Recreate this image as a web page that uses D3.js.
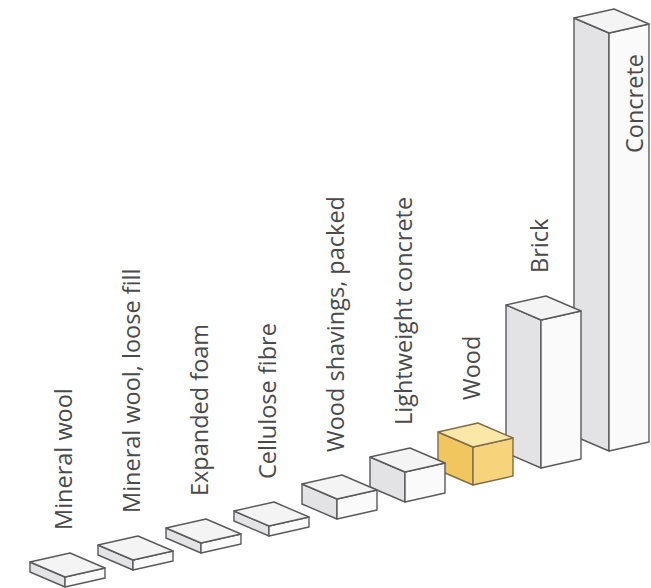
<!DOCTYPE html>
<html>
<head>
<meta charset="utf-8">
<script src="https://cdn.jsdelivr.net/npm/d3@7"></script>
<style>
  html, body { margin: 0; padding: 0; background: #ffffff; }
  svg { display: block; }
  text { font-family: "Open Sans", "Noto Sans", sans-serif; }
</style>
</head>
<body>
<div id="chart"></div>
<script>
// Thermal conductivity of common building materials, W/(m·K)
const materials = [
  "Mineral wool",
  "Mineral wool, loose fill",
  "Expanded foam",
  "Cellulose fibre",
  "Wood shavings, packed",
  "Lightweight concrete",
  "Wood",
  "Brick",
  "Concrete"
];
const conductivity = [0.05, 0.05, 0.05, 0.05, 0.10, 0.15, 0.19, 0.74, 2.09];
const highlighted = ["Wood"];

const width = 651, height = 588;

const svg = d3.select("#chart").append("svg")
  .attr("width", width)
  .attr("height", height);

// Front-corner x of each box, and the sloping ground line the boxes stand on
const x = d3.scalePoint().domain(materials).range([65, 609]);
const ground = d3.scaleLinear().domain([65, 609]).range([587, 451]);
// Box height from conductivity
const h = d3.scaleLinear().domain([0, 1]).range([0, 200]);

// Footprint edges in screen space (isometric-like projection)
const toFront = [35, 15];   // left corner -> front corner
const toRight = [40, -9];   // front corner -> right corner

const palette = {
  plain: { top: "#f4f4f4", left: "#e3e3e6", right: "#fafafa", stroke: "#5a5a5a" },
  wood:  { top: "#fbe7a8", left: "#f2c65e", right: "#f7d47c", stroke: "#7e6e48" }
};

const data = materials.map((name, i) => ({ name, value: conductivity[i] }));

function boxGeometry(d) {
  const fx = x(d.name);
  const fy = ground(fx);          // bottom of front edge
  const top = fy - h(d.value);    // top of front edge
  const F = [fx, top];
  const L = [fx - toFront[0], top - toFront[1]];
  const R = [fx + toRight[0], top + toRight[1]];
  const B = [L[0] + toRight[0], L[1] + toRight[1]];
  const dz = fy - top;
  const down = p => [p[0], p[1] + dz];
  return { F, L, R, B, dz, down };
}

const line = d3.line();

// Draw from the back (right) to the front (left) so nearer boxes overlap
const boxes = svg.append("g").attr("class", "boxes")
  .selectAll("g")
  .data(data.slice().reverse())
  .join("g");

boxes.each(function(d) {
  const g = d3.select(this);
  const c = highlighted.includes(d.name) ? palette.wood : palette.plain;
  const { F, L, R, B, down } = boxGeometry(d);
  const faces = [
    { pts: [L, F, down(F), down(L)], fill: c.left },
    { pts: [F, R, down(R), down(F)], fill: c.right },
    { pts: [L, B, R, F], fill: c.top }
  ];
  g.selectAll("path")
    .data(faces)
    .join("path")
    .attr("d", f => line(f.pts) + "Z")
    .attr("fill", f => f.fill)
    .attr("stroke", c.stroke)
    .attr("stroke-width", 1.4)
    .attr("stroke-linejoin", "round");
});

// Vertical category labels above each box (or on the face when there is no room)
const labels = svg.append("g").attr("class", "labels")
  .selectAll("text")
  .data(data)
  .join("text")
  .attr("font-size", 23.5)
  .attr("fill", "#4a4a4a")
  .attr("text-anchor", "start")
  .text(d => d.name);

labels.each(function(d) {
  const t = d3.select(this);
  const { F, R, B } = boxGeometry(d);
  const len = this.getComputedTextLength();
  let lx = B[0] + 2, ly = B[1] - 23;
  if (ly - len < 5) {
    lx = R[0] - 6;
    ly = F[1] + 120;
  }
  t.attr("transform", `translate(${lx},${ly}) rotate(-90)`);
});
</script>
</body>
</html>
